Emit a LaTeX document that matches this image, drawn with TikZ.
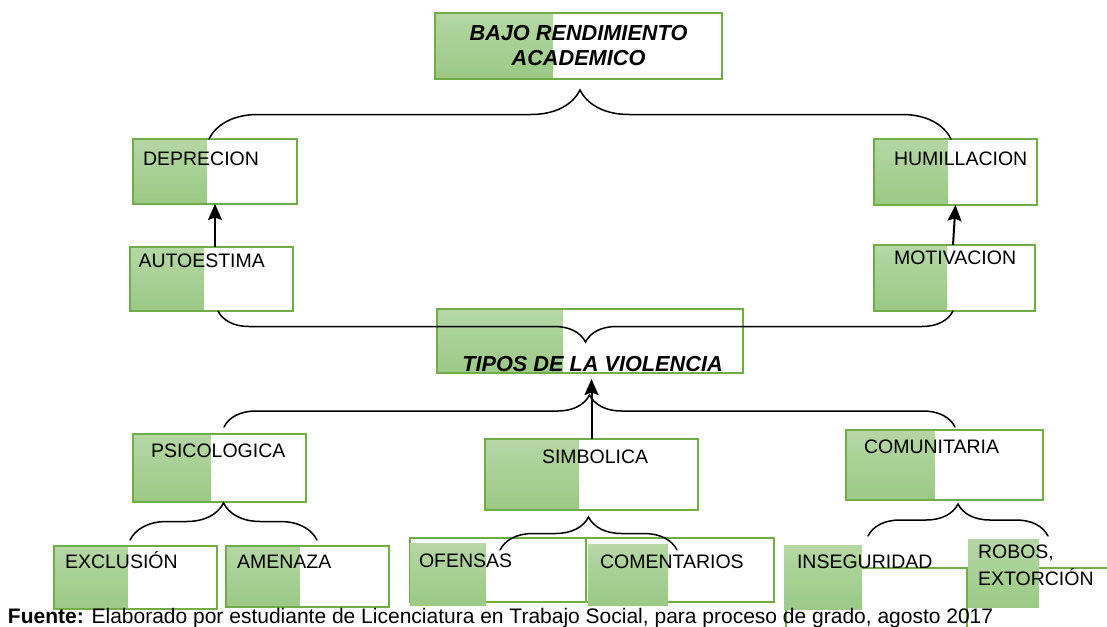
\documentclass[tikz,border=0pt]{standalone}
\usepackage{fontspec}
\setmainfont{Liberation Sans}
\usetikzlibrary{positioning, calc, decorations.pathreplacing, arrows.meta}

\definecolor{boxgreen}{HTML}{70AD47}
\definecolor{greenhi}{HTML}{B5D7A5}
\definecolor{greenlo}{HTML}{9BC985}

\tikzset{
  box/.style={draw=boxgreen, line width=1.8pt, inner sep=0pt, outer sep=0pt, anchor=north west,
    path picture={\fill[top color=greenhi, bottom color=greenlo]
      (path picture bounding box.south west) rectangle
      ($(path picture bounding box.north west)!#1!(path picture bounding box.north east)$);}},
  box/.default=0.45,
  plainbox/.style={draw=boxgreen, line width=1.8pt, inner sep=0pt, outer sep=0pt, anchor=north west},
  patch/.style={top color=greenhi, bottom color=greenlo},
  lbl/.style={inner sep=0pt, outer sep=0pt, font=\fontsize{19.5}{23}\selectfont, anchor=base west},
  title/.style={font=\fontsize{21.7}{25}\selectfont\bfseries\itshape},
  curly/.style={decorate, line width=1.5pt, line cap=round, decoration={brace, amplitude=#1}},
  curly down/.style={curly=#1, decoration={mirror}},
  arr/.style={line width=2pt, -{Stealth[length=16pt, width=14pt, inset=2.5pt]}},
}

\begin{document}
\begin{tikzpicture}[x=1pt, y=1pt]
        \useasboundingbox (0,0) rectangle (1107,-626);
        \clip (0,0) rectangle (1107,-626);
        \node[box=0.41, title, align=center, minimum width=287pt, minimum height=66pt] (bajo) at (435,-13) {BAJO RENDIMIENTO\\ACADEMICO};
        \node[box, minimum width=164pt, minimum height=65pt, below left=60pt and 302pt of bajo.south west, anchor=north west] (dep) {};
        \node[box, minimum width=163pt, minimum height=66pt, below right=60pt and 152pt of bajo.south east, anchor=north west] (hum) {};
        \node[box, minimum width=163pt, minimum height=64pt, below left=43pt and 3pt of dep.south west, anchor=north west] (auto) {};
        \node[box, minimum width=161pt, minimum height=66pt, below=40pt of hum.south west, anchor=north west] (moti) {};
        \node[box=0.41, minimum width=306pt, minimum height=64pt, below right=230pt and 2pt of bajo.south west, anchor=north west] (tipos) {};
        \node[box, minimum width=173pt, minimum height=68pt, below right=123pt and 3pt of auto.south west, anchor=north west] (psico) {};
        \node[box=0.44, minimum width=213pt, minimum height=71pt, below right=66pt and 48pt of tipos.south west, anchor=north west] (simb) {};
        \node[box, minimum width=197pt, minimum height=70pt, below left=119pt and 28pt of moti.south west, anchor=north west] (comu) {};
        \node[box, minimum width=163pt, minimum height=63pt, below left=44pt and 79pt of psico.south west, anchor=north west] (excl) {};
        \node[box, minimum width=163pt, minimum height=61pt, right=9pt of excl.north east, anchor=north west] (amen) {};
        \node[plainbox, minimum width=176pt, minimum height=64pt, below left=28pt and 75pt of simb.south west, anchor=north west] (ofen) {};
        \node[plainbox, minimum width=188pt, minimum height=64pt, right=0pt of ofen.north east, anchor=north west] (come) {};
        \node[plainbox, minimum width=181pt, minimum height=100pt, below left=68pt and 60pt of comu.south west, anchor=north west] (inse) {};
        \node[plainbox, minimum width=200pt, minimum height=100pt, right=0pt of inse.north east, anchor=north west] (robos) {};
        %---------------------------
        \fill[patch] ([yshift=-5pt]ofen.north west) rectangle ++(76,-62);
        \fill[patch] ([shift={(2,-6)}]come.north west) rectangle ++(80,-61);
        \fill[patch] ([shift={(-2,23)}]inse.north west) rectangle ++(78,-64);
        \fill[patch] ([shift={(1,29)}]robos.north west) rectangle ++(71,-68);
        %---------------------------
        \node[lbl, below right=26pt and 10pt of dep.north west, anchor=base west] (deplbl) {DEPRECION};
        \node[lbl, below right=26pt and 20pt of hum.north west, anchor=base west] (humlbl) {HUMILLACION};
        \node[lbl, below right=20pt and 8.5pt of auto.north west, anchor=base west] (autolbl) {AUTOESTIMA};
        \node[lbl, below right=19pt and 20pt of moti.north west, anchor=base west] (motilbl) {MOTIVACION};
        \node[title, inner sep=0pt, above right=2pt and 2.5pt of tipos.south, anchor=base] (tiposlbl) {TIPOS DE LA VIOLENCIA};
        \node[lbl, below right=23pt and 18pt of psico.north west, anchor=base west] (psicolbl) {PSICOLOGICA};
        \node[lbl, below right=24pt and 57pt of simb.north west, anchor=base west] (simblbl) {SIMBOLICA};
        \node[lbl, below right=23pt and 18pt of comu.north west, anchor=base west] (comulbl) {COMUNITARIA};
        \node[lbl, below right=22pt and 11pt of excl.north west, anchor=base west] (excllbl) {EXCLUSIÓN};
        \node[lbl, below right=22pt and 11pt of amen.north west, anchor=base west] (amenlbl) {AMENAZA};
        \node[lbl, below right=29pt and 9pt of ofen.north west, anchor=base west] (ofenlbl) {OFENSAS};
        \node[lbl, below right=30pt and 14pt of come.north west, anchor=base west] (comelbl) {COMENTARIOS};
        \node[lbl, right=11pt of inse.north west, anchor=base west] (inselbl) {INSEGURIDAD};
        \node[lbl, font=\fontsize{19.5}{27}\selectfont, align=left, above right=23pt and 11pt of robos.north west, anchor=north west] (roboslbl) {ROBOS,\\EXTORCIÓN};
        \node[lbl, font=\fontsize{21}{25}\selectfont, below left=14pt and 46pt of excl.south west, anchor=base west] (fuente) {\textbf{Fuente:} Elaborado por estudiante de Licenciatura en Trabajo Social, para proceso de grado, agosto 2017};
        %--------------------------
        \draw[curly=49pt] ([xshift=-6pt]dep.north) -- ([xshift=-4.5pt]hum.north);
        \draw[curly down=31pt] ([xshift=6.5pt]auto.south) -- ([xshift=-1.5pt]moti.south);
        \draw[curly=32pt] ([shift={(4.5,7)}]psico.north) -- ([shift={(10.5,3)}]comu.north);
        \draw[curly=37pt] ([shift={(-5.5,6)}]excl.north) -- ([shift={(9.5,6)}]amen.north);
        \draw[curly=33pt] ([shift={(2,-12)}]ofen.north) -- ([shift={(-3,-12)}]come.north);
        \draw[curly=32pt] ([shift={(-8.5,32)}]inse.north) -- ([shift={(-19,32)}]robos.north);
        \draw[arr] ([xshift=3.5pt]auto.north) -- (dep.south);
        \draw[arr] ([xshift=-1.5pt]moti.north) -- (hum.south);
        \draw[arr, shorten >=6pt] (simb.north) -- (simb.north |- tipos.south);
\end{tikzpicture}
\end{document}
